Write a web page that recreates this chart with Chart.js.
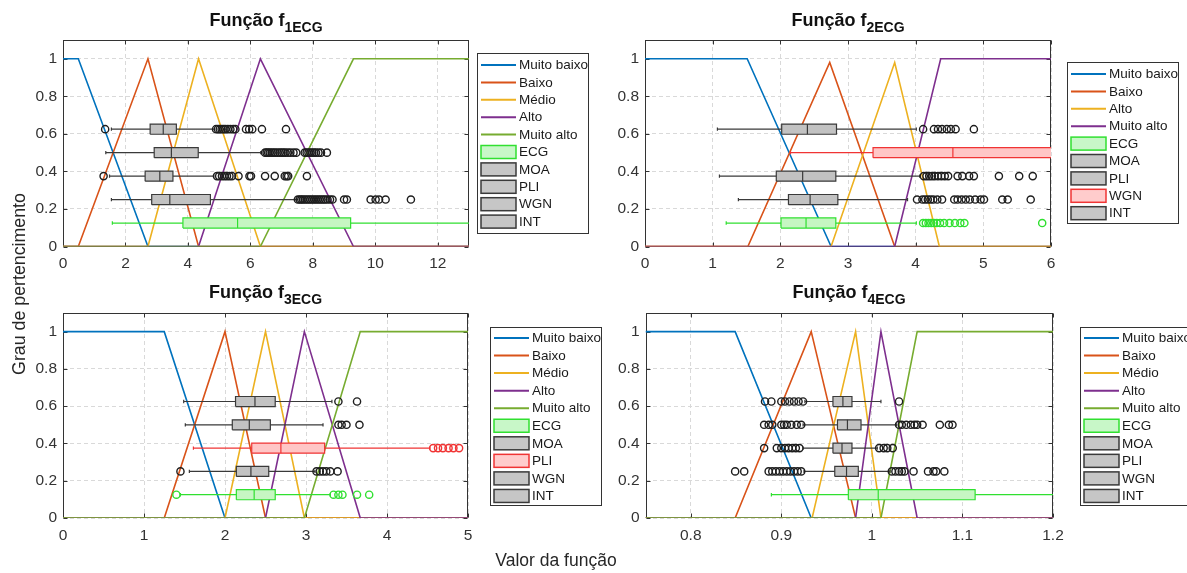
<!DOCTYPE html>
<html>
<head>
<meta charset="utf-8">
<script src="https://cdn.jsdelivr.net/npm/chart.js@4.4.1/dist/chart.umd.min.js"></script>
<style>
html, body { margin: 0; padding: 0; background: #fff; }
#wrap { position: relative; width: 1187px; height: 573px; overflow: hidden;
        font-family: 'Liberation Sans', Arial, Helvetica, sans-serif; }
canvas { position: absolute; }
.ttl { position: absolute; text-align: center; font-weight: bold; font-size: 18px;
       line-height: 20px; color: #111; white-space: nowrap; }
.ttl sub { font-size: 14px; vertical-align: baseline; position: relative; top: 6px; }
.axlab { position: absolute; line-height: 20px; color: #262626;
         white-space: nowrap; text-align: center; }
</style>
</head>
<body>
<div id="wrap">
  <canvas id="c1" width="595" height="285" style="left:0px;top:0px"></canvas>
  <canvas id="c2" width="592" height="285" style="left:595px;top:0px"></canvas>
  <canvas id="c3" width="610" height="288" style="left:0px;top:285px"></canvas>
  <canvas id="c4" width="577" height="288" style="left:610px;top:285px"></canvas>

  <div class="ttl" style="left:63px;top:10px;width:406px">Função f<sub>1ECG</sub></div>
  <div class="ttl" style="left:645px;top:10px;width:406px">Função f<sub>2ECG</sub></div>
  <div class="ttl" style="left:63px;top:282px;width:405px">Função f<sub>3ECG</sub></div>
  <div class="ttl" style="left:645px;top:282px;width:408px">Função f<sub>4ECG</sub></div>

  <div class="axlab" style="left:456px;top:550px;width:200px;font-size:17.5px">Valor da função</div>
  <div class="axlab" style="left:-81px;top:274px;width:200px;font-size:17.8px;transform:rotate(-90deg)">Grau de pertencimento</div>
</div>

<script>
// ---------- tick labels ----------
const f1XTicks = [0, 2, 4, 6, 8, 10, 12];
const f2XTicks = [0, 1, 2, 3, 4, 5, 6];
const f3XTicks = [0, 1, 2, 3, 4, 5];
const f4XTicks = [0.8, 0.9, 1, 1.1, 1.2];
const yTicks = [0, 0.2, 0.4, 0.6, 0.8, 1];

// ---------- categories ----------
const setLabels5 = ['Muito baixo', 'Baixo', 'Médio', 'Alto', 'Muito alto'];
const setLabels4 = ['Muito baixo', 'Baixo', 'Alto', 'Muito alto'];
const signalNames = ['ECG', 'MOA', 'PLI', 'WGN', 'INT'];
const signalLevels = [0.125, 0.25, 0.375, 0.5, 0.625];

// ---------- membership functions, [valor, grau] breakpoints ----------
const f1MuitoBaixo = [[0, 1], [0.49, 1], [2.72, 0], [13, 0]];
const f1Baixo      = [[0, 0], [0.49, 0], [2.72, 1], [4.34, 0], [13, 0]];
const f1Medio      = [[0, 0], [2.72, 0], [4.34, 1], [6.32, 0], [13, 0]];
const f1Alto       = [[0, 0], [4.34, 0], [6.32, 1], [9.3, 0], [13, 0]];
const f1MuitoAlto  = [[0, 0], [6.32, 0], [9.3, 1], [13, 1]];

const f2MuitoBaixo = [[0, 1], [1.51, 1], [2.75, 0], [6, 0]];
const f2Baixo      = [[0, 0], [1.52, 0], [2.73, 0.98], [3.69, 0], [6, 0]];
const f2Alto       = [[0, 0], [2.75, 0], [3.69, 0.98], [4.35, 0], [6, 0]];
const f2MuitoAlto  = [[0, 0], [3.69, 0], [4.37, 1], [6, 1]];

const f3MuitoBaixo = [[0, 1], [1.25, 1], [2.0, 0], [5, 0]];
const f3Baixo      = [[0, 0], [1.25, 0], [2.0, 1], [2.5, 0], [5, 0]];
const f3Medio      = [[0, 0], [2.0, 0], [2.5, 1], [2.98, 0], [5, 0]];
const f3Alto       = [[0, 0], [2.5, 0], [2.98, 1], [3.67, 0], [5, 0]];
const f3MuitoAlto  = [[0, 0], [2.98, 0], [3.67, 1], [5, 1]];

const f4MuitoBaixo = [[0.75, 1], [0.849, 1], [0.933, 0], [1.2, 0]];
const f4Baixo      = [[0.75, 0], [0.849, 0], [0.933, 1], [0.982, 0], [1.2, 0]];
const f4Medio      = [[0.75, 0], [0.934, 0], [0.982, 1], [1.010, 0], [1.2, 0]];
const f4Alto       = [[0.75, 0], [0.982, 0], [1.010, 1], [1.050, 0], [1.2, 0]];
const f4MuitoAlto  = [[0.75, 0], [1.010, 0], [1.050, 1], [1.2, 1]];

// ---------- box statistics per signal (ECG, MOA, PLI, WGN, INT) ----------
// [whisker low, Q1, median, Q3, whisker high]
const f1Stats = [
  [1.58, 3.84, 5.59, 9.21, 14.5],
  [1.55, 2.84, 3.42, 4.72, 7.47],
  [1.49, 2.63, 3.10, 3.52, 4.83],
  [1.37, 2.92, 3.47, 4.33, 6.33],
  [1.55, 2.79, 3.21, 3.63, 4.85]
];
const f1Outliers = [
  [],
  [7.52, 7.58, 7.63, 7.68, 7.74, 7.8, 7.86, 7.92, 7.98, 8.04, 8.1, 8.16, 8.22, 8.28, 8.34, 8.4, 8.47, 8.55, 8.63, 9.0, 9.09, 9.85, 10.01, 10.12, 10.33, 11.14],
  [1.30, 4.93, 5.0, 5.09, 5.17, 5.25, 5.33, 5.41, 5.62, 5.97, 6.02, 6.47, 6.78, 7.1, 7.16, 7.21, 7.81],
  [6.47, 6.52, 6.57, 6.62, 6.68, 6.74, 6.8, 6.87, 6.94, 7.0, 7.06, 7.12, 7.2, 7.28, 7.38, 7.47, 7.74, 7.8, 7.86, 7.92, 7.98, 8.04, 8.1, 8.18, 8.26, 8.45],
  [1.35, 4.9, 4.96, 5.02, 5.08, 5.14, 5.2, 5.28, 5.36, 5.45, 5.52, 5.86, 5.96, 6.06, 6.37, 7.14]
];

const f2Stats = [
  [1.20, 2.01, 2.38, 2.82, 4.01],
  [1.38, 2.12, 2.44, 2.85, 3.88],
  [1.10, 1.94, 2.33, 2.82, 4.06],
  [2.15, 3.37, 4.55, 6.8, 9.0],
  [1.07, 2.02, 2.40, 2.83, 4.01]
];
const f2Outliers = [
  [4.11, 4.15, 4.19, 4.23, 4.27, 4.31, 4.36, 4.42, 4.5, 4.58, 4.66, 4.72, 5.87],
  [4.02, 4.1, 4.14, 4.18, 4.22, 4.26, 4.32, 4.39, 4.57, 4.62, 4.68, 4.74, 4.8, 4.88, 4.96, 5.01, 5.28, 5.36, 5.70],
  [4.12, 4.16, 4.2, 4.24, 4.28, 4.33, 4.38, 4.43, 4.48, 4.62, 4.69, 4.79, 4.86, 5.23, 5.53, 5.73],
  [],
  [4.11, 4.27, 4.33, 4.39, 4.46, 4.52, 4.59, 4.86]
];

const f3Stats = [
  [1.45, 2.14, 2.36, 2.62, 3.30],
  [1.56, 2.14, 2.32, 2.54, 3.11],
  [1.61, 2.33, 2.69, 3.23, 4.53],
  [1.51, 2.09, 2.30, 2.56, 3.21],
  [1.49, 2.13, 2.37, 2.62, 3.32]
];
const f3Outliers = [
  [1.40, 3.34, 3.40, 3.45, 3.63, 3.78],
  [1.45, 3.13, 3.17, 3.21, 3.25, 3.30, 3.39],
  [4.57, 4.63, 4.69, 4.76, 4.82, 4.89],
  [3.40, 3.44, 3.50, 3.66],
  [3.40, 3.63]
];

const f4Stats = [
  [0.889, 0.974, 1.007, 1.114, 1.35],
  [0.925, 0.959, 0.972, 0.985, 1.020],
  [0.924, 0.957, 0.967, 0.978, 1.006],
  [0.924, 0.962, 0.973, 0.988, 1.027],
  [0.926, 0.957, 0.968, 0.978, 1.010]
];
const f4Outliers = [
  [],
  [0.849, 0.859, 0.886, 0.89, 0.894, 0.898, 0.902, 0.906, 0.91, 0.914, 0.918, 0.922, 1.022, 1.026, 1.03, 1.033, 1.036, 1.046, 1.062, 1.068, 1.071, 1.080],
  [0.881, 0.895, 0.900, 0.904, 0.908, 0.912, 0.916, 0.920, 1.008, 1.013, 1.017, 1.023],
  [0.881, 0.886, 0.890, 0.900, 0.903, 0.906, 0.911, 0.917, 0.922, 1.030, 1.033, 1.038, 1.043, 1.047, 1.050, 1.056, 1.075, 1.085, 1.089],
  [0.882, 0.889, 0.900, 0.904, 0.909, 0.914, 0.919, 0.924, 1.030]
];

// ---------- styles ----------
const FONT = "'Liberation Sans', Arial, Helvetica, sans-serif";
Chart.defaults.font.family = FONT;

const setColors5 = ['#0072BD', '#D95319', '#EDB120', '#7E2F8E', '#77AC30'];
const setColors4 = ['#0072BD', '#D95319', '#EDB120', '#7E2F8E'];

const GRAY  = { edge: '#3a3a3a', fill: '#c2c2c2', point: '#1e1e1e', patch: '#c6c6c6' };
const GREEN = { edge: '#30e030', fill: '#c6f6c2', point: '#30e030', patch: '#c8f7c8' };
const RED   = { edge: '#f03434', fill: '#ffc6c6', point: '#f03434', patch: '#ffcccc' };

const BOX_H = 0.027;   // half height of a box, in grau units
const CAP_H = 0.009;   // half height of a whisker cap

function memberDatasets(labels, curves, colors) {
  return curves.map((pts, i) => ({
    label: labels[i],
    legendKind: 'line',
    data: pts.map(p => ({ x: p[0], y: p[1] })),
    borderColor: colors[i],
    borderWidth: 1.6,
    pointRadius: 0,
    fill: false,
    tension: 0,
    order: 20 - i
  }));
}

function boxDatasets(stats, outliers, styles) {
  const out = [];
  stats.forEach((s, i) => {
    const y = signalLevels[i];
    const st = styles[i];
    const lo = s[0], q1 = s[1], med = s[2], q3 = s[3], hi = s[4];
    const gap = { x: null, y: null };
    out.push({
      label: signalNames[i],
      legendKind: 'patch',
      legendFill: st.patch,
      legendEdge: st.edge,
      data: [
        { x: q1, y: y - BOX_H }, { x: q3, y: y - BOX_H },
        { x: q3, y: y + BOX_H }, { x: q1, y: y + BOX_H }, { x: q1, y: y - BOX_H }
      ],
      borderColor: st.edge,
      backgroundColor: st.fill,
      borderWidth: 1.2,
      fill: 'shape',
      pointRadius: 0,
      tension: 0,
      order: 6
    });
    out.push({
      label: '',
      data: [
        { x: lo, y: y }, { x: q1, y: y }, gap,
        { x: q3, y: y }, { x: hi, y: y }, gap,
        { x: lo, y: y - CAP_H }, { x: lo, y: y + CAP_H }, gap,
        { x: hi, y: y - CAP_H }, { x: hi, y: y + CAP_H }, gap,
        { x: med, y: y - BOX_H }, { x: med, y: y + BOX_H }
      ],
      borderColor: st.edge,
      borderWidth: 1.2,
      fill: false,
      pointRadius: 0,
      tension: 0,
      order: 5
    });
    out.push({
      label: '',
      data: outliers[i].map(v => ({ x: v, y: y })),
      showLine: false,
      pointStyle: 'circle',
      pointRadius: 3.6,
      pointBorderWidth: 1.4,
      pointBorderColor: st.point,
      pointBackgroundColor: 'rgba(0,0,0,0)',
      order: 4
    });
  });
  return out;
}

// Axes frame with inward ticks, plus the boxed legend at the right of each panel
const frameLegend = {
  id: 'frameLegend',
  beforeDatasetsDraw(chart) {
    const { ctx, chartArea: a, scales } = chart;
    const L = Math.round(a.left) + 0.5, R = Math.round(a.right) - 0.5;
    const T = Math.round(a.top) + 0.5, B = Math.round(a.bottom) - 0.5;
    ctx.save();
    ctx.strokeStyle = '#333';
    ctx.lineWidth = 1;
    ctx.strokeRect(L, T, R - L, B - T);
    ctx.beginPath();
    scales.x.ticks.forEach(t => {
      const px = Math.round(scales.x.getPixelForValue(t.value)) + 0.5;
      ctx.moveTo(px, B); ctx.lineTo(px, B - 4);
      ctx.moveTo(px, T); ctx.lineTo(px, T + 4);
    });
    scales.y.ticks.forEach(t => {
      const py = Math.round(scales.y.getPixelForValue(t.value)) + 0.5;
      ctx.moveTo(L, py); ctx.lineTo(L + 4, py);
      ctx.moveTo(R, py); ctx.lineTo(R - 4, py);
    });
    ctx.stroke();
    ctx.restore();
  },
  afterDraw(chart, args, opts) {
    const { ctx } = chart;
    const [bx, by, bw, bh] = opts.box;
    const items = chart.data.datasets.filter(d => d.legendKind);
    ctx.save();
    ctx.fillStyle = '#fff';
    ctx.fillRect(bx, by, bw, bh);
    ctx.strokeStyle = '#333';
    ctx.lineWidth = 1;
    ctx.strokeRect(bx + 0.5, by + 0.5, bw, bh);
    ctx.font = '13.5px ' + FONT;
    ctx.textBaseline = 'middle';
    ctx.textAlign = 'left';
    items.forEach((d, k) => {
      const cy = opts.row0 + k * opts.step;
      if (d.legendKind === 'line') {
        ctx.strokeStyle = d.borderColor;
        ctx.lineWidth = 2;
        ctx.beginPath();
        ctx.moveTo(bx + 4, cy);
        ctx.lineTo(bx + 39, cy);
        ctx.stroke();
      } else {
        ctx.fillStyle = d.legendFill;
        ctx.fillRect(bx + 4, cy - 6.5, 35, 13);
        ctx.strokeStyle = d.legendEdge;
        ctx.lineWidth = 1.5;
        ctx.strokeRect(bx + 4, cy - 6.5, 35, 13);
      }
      ctx.fillStyle = '#1a1a1a';
      ctx.fillText(d.label, bx + 42, cy + 0.5);
    });
    ctx.restore();
  }
};

const fmt = v => String(Math.round(v * 100) / 100);

function makeChart(id, cfg) {
  const tickFont = { family: FONT, size: 15.5 };
  return new Chart(document.getElementById(id), {
    type: 'line',
    data: { datasets: cfg.datasets },
    plugins: [frameLegend],
    options: {
      responsive: false,
      animation: false,
      events: [],
      layout: { padding: cfg.padding },
      plugins: {
        legend: { display: false },
        tooltip: { enabled: false },
        frameLegend: cfg.legend
      },
      scales: {
        x: {
          type: 'linear',
          min: cfg.xMin,
          max: cfg.xMax,
          afterBuildTicks: s => { s.ticks = cfg.xTicks.map(v => ({ value: v })); },
          afterFit: s => { s.height = 28; },
          grid: { color: '#d9d9d9', lineWidth: 1, drawTicks: false },
          border: { display: false, dash: [4, 3] },
          ticks: { font: tickFont, color: '#333', padding: 8, autoSkip: false, maxRotation: 0, callback: fmt }
        },
        y: {
          type: 'linear',
          min: 0,
          max: 1.1,
          afterBuildTicks: s => { s.ticks = yTicks.map(v => ({ value: v })); },
          afterFit: s => { s.width = 34; },
          grid: { color: '#d9d9d9', lineWidth: 1, drawTicks: false },
          border: { display: false, dash: [4, 3] },
          ticks: { font: tickFont, color: '#333', padding: 6, autoSkip: false, callback: fmt }
        }
      }
    }
  });
}

const boxStyles = name => signalNames.map(s => s === 'ECG' ? GREEN : (s === name ? RED : GRAY));

makeChart('c1', {
  xMin: 0, xMax: 13, xTicks: f1XTicks,
  padding: { left: 29, right: 126, top: 40, bottom: 10.5 },
  legend: { box: [477, 53, 111, 180], row0: 65, step: 17.4 },
  datasets: memberDatasets(setLabels5, [f1MuitoBaixo, f1Baixo, f1Medio, f1Alto, f1MuitoAlto], setColors5)
    .concat(boxDatasets(f1Stats, f1Outliers, boxStyles(null)))
});

makeChart('c2', {
  xMin: 0, xMax: 6, xTicks: f2XTicks,
  padding: { left: 16, right: 136, top: 40, bottom: 10.5 },
  legend: { box: [472, 62, 111, 161], row0: 74, step: 17.4 },
  datasets: memberDatasets(setLabels4, [f2MuitoBaixo, f2Baixo, f2Alto, f2MuitoAlto], setColors4)
    .concat(boxDatasets(f2Stats, f2Outliers, boxStyles('WGN')))
});

makeChart('c3', {
  xMin: 0, xMax: 5, xTicks: f3XTicks,
  padding: { left: 29, right: 142, top: 28, bottom: 27 },
  legend: { box: [490, 42, 111, 178], row0: 53, step: 17.55 },
  datasets: memberDatasets(setLabels5, [f3MuitoBaixo, f3Baixo, f3Medio, f3Alto, f3MuitoAlto], setColors5)
    .concat(boxDatasets(f3Stats, f3Outliers, boxStyles('PLI')))
});

makeChart('c4', {
  xMin: 0.75, xMax: 1.2, xTicks: f4XTicks,
  padding: { left: 1.5, right: 134, top: 28, bottom: 27 },
  legend: { box: [470, 42, 111, 178], row0: 53, step: 17.55 },
  datasets: memberDatasets(setLabels5, [f4MuitoBaixo, f4Baixo, f4Medio, f4Alto, f4MuitoAlto], setColors5)
    .concat(boxDatasets(f4Stats, f4Outliers, boxStyles(null)))
});
</script>
</body>
</html>
